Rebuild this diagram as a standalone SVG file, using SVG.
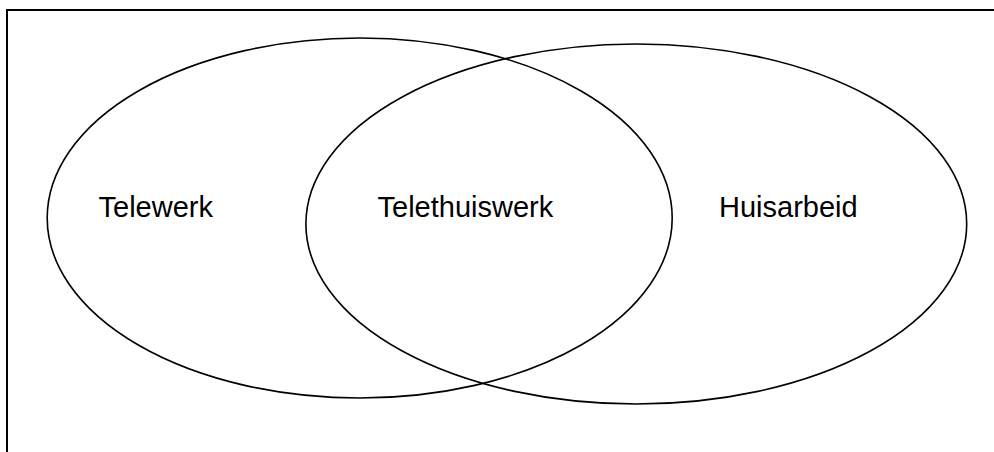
<svg xmlns="http://www.w3.org/2000/svg" width="994" height="452" viewBox="0 0 994 452">
<style>
.e{fill:none;stroke:#000;stroke-width:1.6}
.t{font-family:"Liberation Sans",Arial,sans-serif;font-size:29px;fill:#000}
.b{fill:none;stroke:#000;stroke-width:2}
</style>
<rect width="994" height="452" fill="#fff"/>
<path class="b" d="M7,452 V10 H994"/>
<g id="telewerk">
<ellipse class="e" cx="359.7" cy="218" rx="312.5" ry="180"/>
<text class="t" x="98.5" y="217">Telewerk</text>
</g>
<g id="huisarbeid">
<ellipse class="e" cx="636.3" cy="224" rx="330.4" ry="180"/>
<text class="t" x="719" y="217">Huisarbeid</text>
</g>
<g id="telethuiswerk">
<text class="t" x="377.5" y="217">Telethuiswerk</text>
</g>
<g id="connectors"></g>
</svg>
